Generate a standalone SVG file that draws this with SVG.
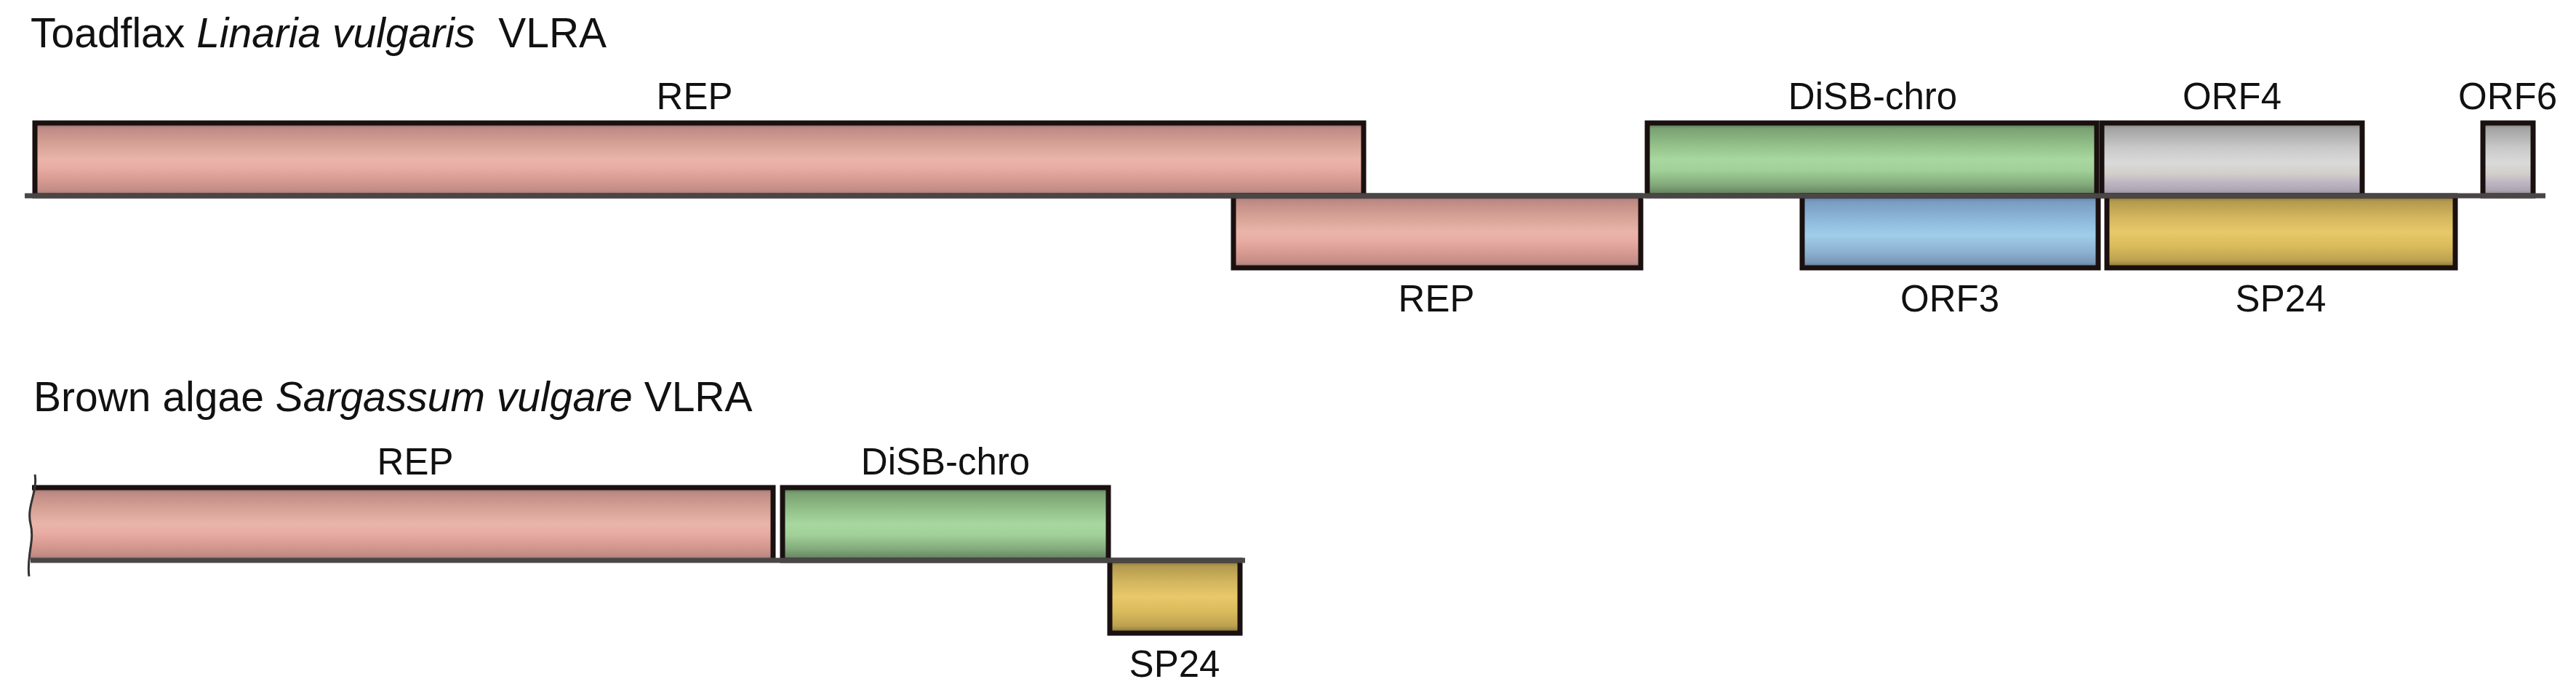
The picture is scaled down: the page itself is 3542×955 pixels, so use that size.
<svg xmlns="http://www.w3.org/2000/svg" width="3542" height="955" viewBox="0 0 3542 955">
<defs>
<linearGradient id="gRep" x1="0" y1="0" x2="0" y2="1">
<stop offset="0" stop-color="#8a6a66"/><stop offset="0.07" stop-color="#bd8984"/><stop offset="0.25" stop-color="#d29e92"/><stop offset="0.5" stop-color="#e9b4a9"/><stop offset="0.62" stop-color="#e9aca4"/><stop offset="0.8" stop-color="#d59990"/><stop offset="0.93" stop-color="#c18c86"/><stop offset="1" stop-color="#8e7068"/>
</linearGradient>
<linearGradient id="gGreen" x1="0" y1="0" x2="0" y2="1">
<stop offset="0" stop-color="#55714f"/><stop offset="0.08" stop-color="#7aa173"/><stop offset="0.3" stop-color="#92c088"/><stop offset="0.5" stop-color="#a8d89f"/><stop offset="0.65" stop-color="#a1d198"/><stop offset="0.85" stop-color="#82a97a"/><stop offset="1" stop-color="#5f7b5a"/>
</linearGradient>
<linearGradient id="gGray" x1="0" y1="0" x2="0" y2="1">
<stop offset="0" stop-color="#808080"/><stop offset="0.08" stop-color="#a4a4a4"/><stop offset="0.35" stop-color="#cacaca"/><stop offset="0.55" stop-color="#dadada"/><stop offset="0.7" stop-color="#d2cec9"/><stop offset="0.8" stop-color="#c1b9c5"/><stop offset="0.93" stop-color="#aca4b0"/><stop offset="1" stop-color="#807c84"/>
</linearGradient>
<linearGradient id="gBlue" x1="0" y1="0" x2="0" y2="1">
<stop offset="0" stop-color="#52708f"/><stop offset="0.08" stop-color="#789cc1"/><stop offset="0.4" stop-color="#93c0e0"/><stop offset="0.55" stop-color="#a0cde8"/><stop offset="0.8" stop-color="#8baecf"/><stop offset="0.93" stop-color="#7897b4"/><stop offset="1" stop-color="#566c84"/>
</linearGradient>
<linearGradient id="gYellow" x1="0" y1="0" x2="0" y2="1">
<stop offset="0" stop-color="#7e6a30"/><stop offset="0.08" stop-color="#b39a50"/><stop offset="0.3" stop-color="#d4b65e"/><stop offset="0.5" stop-color="#e8c869"/><stop offset="0.7" stop-color="#dabb5c"/><stop offset="0.9" stop-color="#bca150"/><stop offset="1" stop-color="#7e6e38"/>
</linearGradient>
<style>
text { font-family: "Liberation Sans", Arial, sans-serif; fill: #111111; }
.title { font-size: 57px; }
.lbl { font-size: 51px; text-anchor: middle; }
.bar { stroke: #1a1010; stroke-width: 7; }
.axis { stroke: #4b4646; stroke-width: 7; fill: none; }
.rep { fill: url(#gRep); }
.green { fill: url(#gGreen); }
.gray { fill: url(#gGray); }
.blue { fill: url(#gBlue); }
.yellow { fill: url(#gYellow); }
</style>
</defs>
<rect width="3542" height="955" fill="#ffffff"/>

<!-- Top diagram -->
<text class="title" x="42" y="65" xml:space="preserve">Toadflax <tspan font-style="italic">Linaria vulgaris</tspan>  VLRA</text>

<g id="top-rep1"><rect class="bar rep" x="48" y="169" width="1827" height="100"/><text class="lbl" x="955" y="150">REP</text></g>
<g id="top-disb"><rect class="bar green" x="2265" y="169" width="618" height="100"/><text class="lbl" x="2575" y="150">DiSB-chro</text></g>
<g id="top-orf4"><rect class="bar gray" x="2890" y="169" width="358" height="100"/><text class="lbl" x="3069" y="150">ORF4</text></g>
<g id="top-orf6"><rect class="bar gray" x="3414" y="169" width="69" height="100"/><text class="lbl" x="3448" y="150">ORF6</text></g>
<g id="top-rep2"><rect class="bar rep" x="1696" y="269" width="560" height="99"/><text class="lbl" x="1975" y="428">REP</text></g>
<g id="top-orf3"><rect class="bar blue" x="2478" y="269" width="407" height="99"/><text class="lbl" x="2681" y="428">ORF3</text></g>
<g id="top-sp24"><rect class="bar yellow" x="2897" y="269" width="479" height="99"/><text class="lbl" x="3136" y="428">SP24</text></g>

<!-- Bottom diagram -->
<text class="title" x="46" y="565" xml:space="preserve">Brown algae <tspan font-style="italic">Sargassum vulgare</tspan> VLRA</text>

<g id="bot-rep">
<path class="rep" d="M44 670 L1063 670 L1063 770 L42 770 C36 752 48 736 42 720 C36 704 49 688 44 670 Z"/>
<path d="M44 670 L1063 670 L1063 770" fill="none" stroke="#1a1010" stroke-width="7"/>
<path d="M48 652 C52 676 36 696 42 720 C48 744 36 764 40 792" fill="none" stroke="#333333" stroke-width="3"/>
<text class="lbl" x="571" y="652">REP</text>
</g>
<g id="bot-disb"><rect class="bar green" x="1076" y="670" width="448" height="100"/><text class="lbl" x="1300" y="652">DiSB-chro</text></g>
<g id="bot-sp24"><rect class="bar yellow" x="1526" y="770" width="179" height="100"/><text class="lbl" x="1615" y="930">SP24</text></g>

<g id="connectors">
<line class="axis" x1="34" y1="269" x2="3500" y2="269"/>
<line class="axis" x1="42" y1="770" x2="1712" y2="770"/>
</g>
</svg>
